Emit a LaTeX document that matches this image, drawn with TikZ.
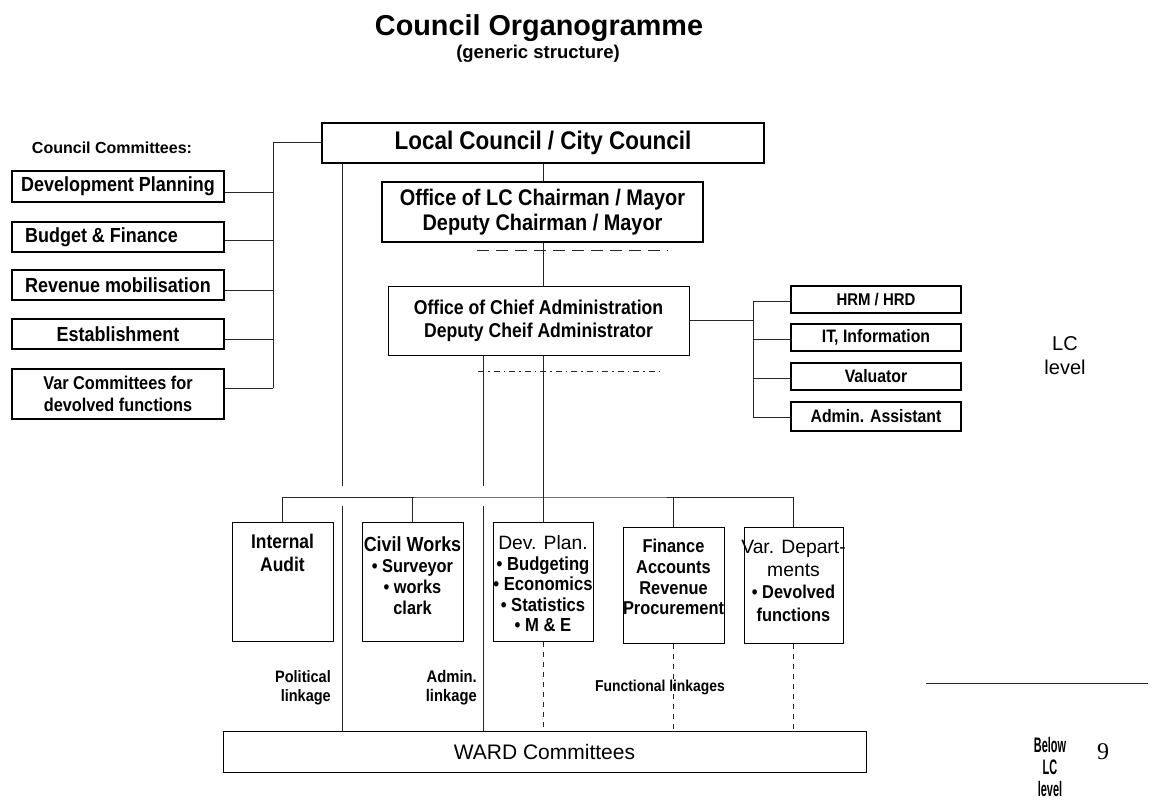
\documentclass[tikz,border=0pt]{standalone}
\usepackage{fontspec}
\setmainfont{Liberation Sans}
\newfontfamily\cf[FakeStretch=0.88]{Liberation Sans}
\newfontfamily\cn[FakeStretch=0.52]{Liberation Sans}
\newfontfamily\pgnum{Liberation Serif}
\begin{document}
\begin{tikzpicture}[x=1pt,y=-1pt,
  thickbox/.style={draw, line width=2pt, inner sep=0pt, align=center},
  thinbox/.style={draw, line width=1pt, inner sep=0pt, align=center},
  smallbox/.style={draw, line width=1.2pt, inner sep=0pt, minimum width=170pt, font=\cf\bfseries\fontsize{18}{20}\selectfont},
  cmbox/.style={thickbox, minimum width=212pt, minimum height=30pt, font=\cf\bfseries\fontsize{20.4}{22}\selectfont},
  txt/.style={inner sep=0pt, align=center},
  link/.style={line width=1pt, draw=black!85},
]
\fill[white] (0,0) rectangle (1153,802);
\useasboundingbox (0,0) rectangle (1153,802);

% titles
\node[txt, font=\bfseries\fontsize{28.8}{32}\selectfont] (title) at (539,28) {Council Organogramme};
\node[txt, font=\bfseries\fontsize{18.5}{22}\selectfont] (sub) at (538,54) {(generic structure)};

% committees
\node[txt, font=\bfseries\fontsize{16}{18}\selectfont] (cc) at (112,148) {Council Committees:};
\node[cmbox, minimum height=31pt] (dp) at (118,186.5) {Development Planning};
\node[cmbox] (bf) at (118,237) {Budget \& Finance\hspace*{33pt}};
\node[cmbox] (rm) at (118,285) {Revenue mobilisation};
\node[cmbox] (es) at (118,334) {Establishment};
\node[cmbox, minimum height=50pt, font=\cf\bfseries\fontsize{18.5}{22}\selectfont] (vc) at (118,394) {Var Committees for\\devolved functions};

% main column
\node[thickbox, minimum width=442pt, minimum height=40pt, font=\cf\bfseries\fontsize{25.5}{28}\selectfont] (lc) at (543,143) {Local Council / City Council};
\node[thickbox, minimum width=321pt, minimum height=60pt, font=\cf\bfseries\fontsize{22.6}{25}\selectfont] (ch) at (542.5,212) {Office of LC Chairman / Mayor\\Deputy Chairman / Mayor};
\node[thinbox, minimum width=301pt, minimum height=69pt, font=\cf\bfseries\fontsize{20}{23}\selectfont] (chief) at (538.5,320.5) {Office of Chief Administration\\Deputy Cheif Administrator};

% right boxes
\node[smallbox, minimum height=27pt, font=\cf\bfseries\fontsize{17}{20}\selectfont] (hrm) at (876,299.5) {HRM / HRD};
\node[smallbox, minimum height=27pt] (it) at (876,337.5) {IT, Information};
\node[smallbox, minimum height=27pt] (val) at (876,376.5) {Valuator};
\node[smallbox, minimum height=29pt] (adm) at (876,416.5) {Admin. Assistant};
\node[txt, font=\fontsize{20}{24}\selectfont] (lcl) at (1065,356) {LC\\level};

% departments
\node[thinbox, minimum width=101pt, minimum height=119pt] (ia) at (282.5,581.5) {};
\node[thinbox, minimum width=101pt, minimum height=119pt] (cw) at (412.5,581.5) {};
\node[thinbox, minimum width=100pt, minimum height=119pt] (dev) at (543,581.5) {};
\node[thinbox, minimum width=101pt, minimum height=116pt] (fin) at (673.5,585) {};
\node[thinbox, minimum width=99pt, minimum height=116pt] (var) at (793.5,585) {};

\node[txt, font=\cf\bfseries\fontsize{19.8}{23}\selectfont] (iat) at (282.5,552.5) {Internal\\Audit};
\node[txt, font=\cf\bfseries\fontsize{19.5}{21}\selectfont] (cwt) at (412.5,575.5) {{\fontsize{20.4}{21}\selectfont Civil Works}\\{\fontsize{18.6}{21}\selectfont • Surveyor}\\{\fontsize{18.6}{21}\selectfont • works}\\{\fontsize{18.6}{21}\selectfont clark}};
\node[txt, font=\cf\bfseries\fontsize{18.9}{20.5}\selectfont] (devt) at (543,584) {{\normalfont\fontsize{19.3}{20.5}\selectfont Dev. Plan.}\\• Budgeting\\• Economics\\• Statistics\\• M \& E};
\node[txt, font=\cf\bfseries\fontsize{18.6}{20.7}\selectfont] (fint) at (673.5,577) {Finance\\Accounts\\Revenue\\Procurement};
\node[txt, font=\cf\bfseries\fontsize{18.6}{22.5}\selectfont] (vart) at (793.5,581) {{\normalfont\fontsize{19.3}{22.5}\selectfont Var. Depart-}\\{\normalfont\fontsize{19.3}{22.5}\selectfont ments}\\• Devolved\\functions};

% ward
\node[thinbox, minimum width=643pt, minimum height=41pt, font=\fontsize{21}{24}\selectfont] (ward) at (544.5,751.5) {WARD Committees};

% linkage labels
\node[txt, anchor=east, align=right, font=\cf\bfseries\fontsize{16.5}{19}\selectfont] (pl) at (331,687.5) {Political\\linkage};
\node[txt, anchor=east, align=right, font=\cf\bfseries\fontsize{16.8}{19}\selectfont] (al) at (477,687.5) {Admin.\\linkage};
\node[txt, font=\cf\bfseries\fontsize{15.8}{18}\selectfont] (fl) at (660,687) {Functional linkages};

% below LC level
\node[txt, font=\cn\bfseries\fontsize{21}{22}\selectfont] (blw) at (1050,767) {Below\\LC\\level};
\node[txt, font=\pgnum\fontsize{24}{24}\selectfont] (pg) at (1103,752) {9};

% coordinates
\coordinate (lb0) at (273,143);
\coordinate (lb1) at (273,193);
\coordinate (lb2) at (273,241);
\coordinate (lb3) at (273,290);
\coordinate (lb4) at (273,339);
\coordinate (lb5) at (273,388);
\coordinate (r1) at (753,301);
\coordinate (r2) at (753,339);
\coordinate (r3) at (753,378);
\coordinate (r4) at (753,417);
\coordinate (d1) at (477,251);
\coordinate (d2) at (668,251);
\coordinate (e1) at (478,371);
\coordinate (e2) at (663,371);
\coordinate (bus) at (543,497);
\coordinate (p1) at (342,486);
\coordinate (p2) at (342,506);
\coordinate (a1) at (483,486);
\coordinate (a2) at (483,506);
\coordinate (hl1) at (926,683);
\coordinate (hl2) at (1148,683);

% left connectors
\draw[link] (lc.west) -- (lb0) -- (lb5);
\draw[link] (lb1) -- (lb1 -| dp.east);
\draw[link] (lb2) -- (lb2 -| bf.east);
\draw[link] (lb3) -- (lb3 -| rm.east);
\draw[link] (lb4) -- (lb4 -| es.east);
\draw[link] (lb5) -- (lb5 -| vc.east);

% main column connectors
\draw[link] (lc.south) -- (ch.north -| lc.south);
\draw[link] (ch.south -| lc.south) -- (chief.north -| lc.south);
\draw[link, dash pattern=on 12pt off 7pt] (d1) -- (d2);
\draw[link, dash pattern=on 6pt off 4pt on 1.5pt off 4pt] (e1) -- (e2);

% right connectors
\draw[link] (chief.east) -- (chief.east -| r1);
\draw[link] (r1) -- (r4);
\draw[link] (r1) -- (r1 -| hrm.west);
\draw[link] (r2) -- (r2 -| it.west);
\draw[link] (r3) -- (r3 -| val.west);
\draw[link] (r4) -- (r4 -| adm.west);

% department bus
\draw[link] (chief.south -| dev.north) -- (dev.north);
\draw[link] (ia.north) |- (bus) -| (var.north);
\draw[link] (bus -| cw.north) -- (cw.north);
\draw[link] (bus -| fin.north) -- (fin.north);

% political and admin linkages
\draw[link] (lc.south -| p1) -- (p1);
\draw[link] (p2) -- (p2 |- ward.north);
\draw[link] (chief.south -| a1) -- (a1);
\draw[link] (a2) -- (a2 |- ward.north);

% functional linkages
\draw[link, dash pattern=on 5pt off 5pt] (dev.south) -- (dev.south |- ward.north);
\draw[link, dash pattern=on 5pt off 5pt] (fin.south) -- (fin.south |- ward.north);
\draw[link, dash pattern=on 5pt off 5pt] (var.south) -- (var.south |- ward.north);

% right rule
\draw[link] (hl1) -- (hl2);
\end{tikzpicture}
\end{document}
